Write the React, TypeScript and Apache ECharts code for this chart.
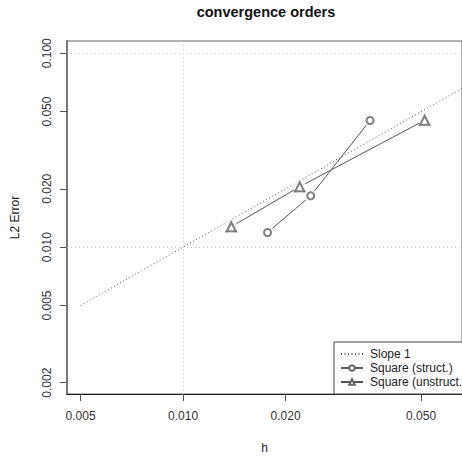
import React, { useEffect, useRef } from "react";
import * as echarts from "echarts";

// Mesh size h and L2 error for each mesh family
const structH = [0.0354, 0.0237, 0.0177];
const structErr = [0.045, 0.0184, 0.0119];
const unstructH = [0.0512, 0.022, 0.01385];
const unstructErr = [0.0451, 0.0205, 0.01275];

// Reference line of slope 1 (error = h)
const slopeH = [0.005, 0.08];
const slopeErr = [0.005, 0.08];

// Tick labels on both log axes
const xTicks = [0.005, 0.01, 0.02, 0.05];
const yTicks = [0.002, 0.005, 0.01, 0.02, 0.05, 0.1];

// Dotted guide lines
const guideX = [0.01];
const guideY = [0.1, 0.01];

const seriesNames = ["Slope 1", "Square (struct.)", "Square (unstruct.)"];

const lg = (v: number) => Math.log10(v);
const pairs = (xs: number[], ys: number[]) => xs.map((x, i) => [lg(x), lg(ys[i])]);

const FONT = "'Liberation Sans', Arial, Helvetica, sans-serif";

export default function App() {
  const ref = useRef<HTMLDivElement>(null);

  useEffect(() => {
    if (!ref.current) return;
    const chart = echarts.init(ref.current, undefined, { renderer: "svg" });

    const fmt = (v: number) => Math.pow(10, v).toFixed(3);

    chart.setOption({
      animation: false,
      backgroundColor: "#fff",
      textStyle: { fontFamily: FONT },
      graphic: [
        {
          type: "text",
          x: 266,
          y: 12,
          style: {
            text: "convergence orders",
            font: `bold 14.5px ${FONT}`,
            fill: "#111",
            textAlign: "center",
            textVerticalAlign: "middle",
          },
        },
      ],
      grid: {
        left: 67,
        top: 41,
        width: 399,
        height: 355,
        show: true,
        borderColor: "#666",
        borderWidth: 1,
        backgroundColor: "transparent",
      },
      legend: {
        data: [
          { name: seriesNames[0], itemStyle: { opacity: 0 } },
          { name: seriesNames[1] },
          { name: seriesNames[2] },
        ],
        orient: "vertical",
        left: 334,
        top: 342,
        itemGap: 0,
        itemWidth: 22,
        itemHeight: 7,
        padding: [5, 60, 5, 6],
        borderColor: "#444",
        borderWidth: 1,
        backgroundColor: "#fff",
        textStyle: {
          fontSize: 12,
          color: "#222",
          fontFamily: FONT,
          lineHeight: 14,
          padding: [0, 0, 0, 2],
        },
      },
      xAxis: {
        type: "value",
        min: -2.3408,
        max: -1.181,
        name: "h",
        nameLocation: "middle",
        nameGap: 48,
        nameTextStyle: { fontSize: 12, color: "#222" },
        splitLine: { show: false },
        axisLine: { show: true, lineStyle: { color: "#222", width: 1 } },
        axisTick: {
          show: true,
          inside: false,
          length: 7,
          customValues: xTicks.map(lg),
          lineStyle: { color: "#555" },
        },
        axisLabel: {
          customValues: xTicks.map(lg),
          formatter: fmt,
          fontSize: 12,
          color: "#333",
          margin: 16,
        },
      },
      yAxis: {
        type: "value",
        min: -2.7574,
        max: -0.9369,
        name: "L2 Error",
        nameLocation: "middle",
        nameGap: 46,
        nameRotate: 90,
        nameTextStyle: { fontSize: 12, color: "#222" },
        splitLine: { show: false },
        axisLine: { show: true, lineStyle: { color: "#777", width: 2 } },
        axisTick: {
          show: true,
          inside: false,
          length: 7,
          customValues: yTicks.map(lg),
          lineStyle: { color: "#555" },
        },
        axisLabel: {
          customValues: yTicks.map(lg),
          formatter: fmt,
          rotate: 90,
          fontSize: 12,
          color: "#333",
          margin: 14,
        },
      },
      series: [
        {
          name: seriesNames[0],
          type: "line",
          data: pairs(slopeH, slopeErr),
          showSymbol: false,
          symbol: "circle",
          color: "#555",
          lineStyle: { color: "#555", width: 1, type: [1, 2.5] },
          z: 2,
          markLine: {
            silent: true,
            symbol: "none",
            label: { show: false },
            lineStyle: { color: "#c8c8c8", width: 1, type: [1, 3] },
            data: [
              ...guideX.map((v) => ({ xAxis: lg(v) })),
              ...guideY.map((v) => ({ yAxis: lg(v) })),
            ],
          },
        },
        {
          name: seriesNames[1],
          type: "line",
          data: pairs(structH, structErr),
          symbol: "emptyCircle",
          symbolSize: 7,
          color: "#555",
          lineStyle: { color: "#555", width: 1 },
          itemStyle: { color: "#666", borderWidth: 1.1 },
          z: 2,
        },
        {
          name: seriesNames[2],
          type: "line",
          data: pairs(unstructH, unstructErr),
          symbol: "emptyTriangle",
          symbolSize: 9,
          color: "#555",
          lineStyle: { color: "#555", width: 1 },
          itemStyle: { color: "#666", borderWidth: 1.1 },
          z: 2,
        },
        // White discs leave a small gap in the lines around each point
        {
          name: "gap",
          type: "scatter",
          data: [...pairs(structH, structErr), ...pairs(unstructH, unstructErr)],
          symbol: "circle",
          symbolSize: 13,
          itemStyle: { color: "#fff" },
          silent: true,
          z: 3,
        },
        {
          name: "struct points",
          type: "scatter",
          data: pairs(structH, structErr),
          symbol: "emptyCircle",
          symbolSize: 7,
          itemStyle: { color: "#666", borderColor: "#666", borderWidth: 1.1 },
          silent: true,
          z: 4,
        },
        {
          name: "unstruct points",
          type: "scatter",
          data: pairs(unstructH, unstructErr),
          symbol: "emptyTriangle",
          symbolSize: 9,
          itemStyle: { color: "#666", borderColor: "#666", borderWidth: 1.1 },
          silent: true,
          z: 4,
        },
      ],
    });

    return () => chart.dispose();
  }, []);

  return (
    <div
      ref={ref}
      style={{ position: "fixed", left: 0, top: 0, width: 462, height: 459, background: "#fff" }}
    />
  );
}
